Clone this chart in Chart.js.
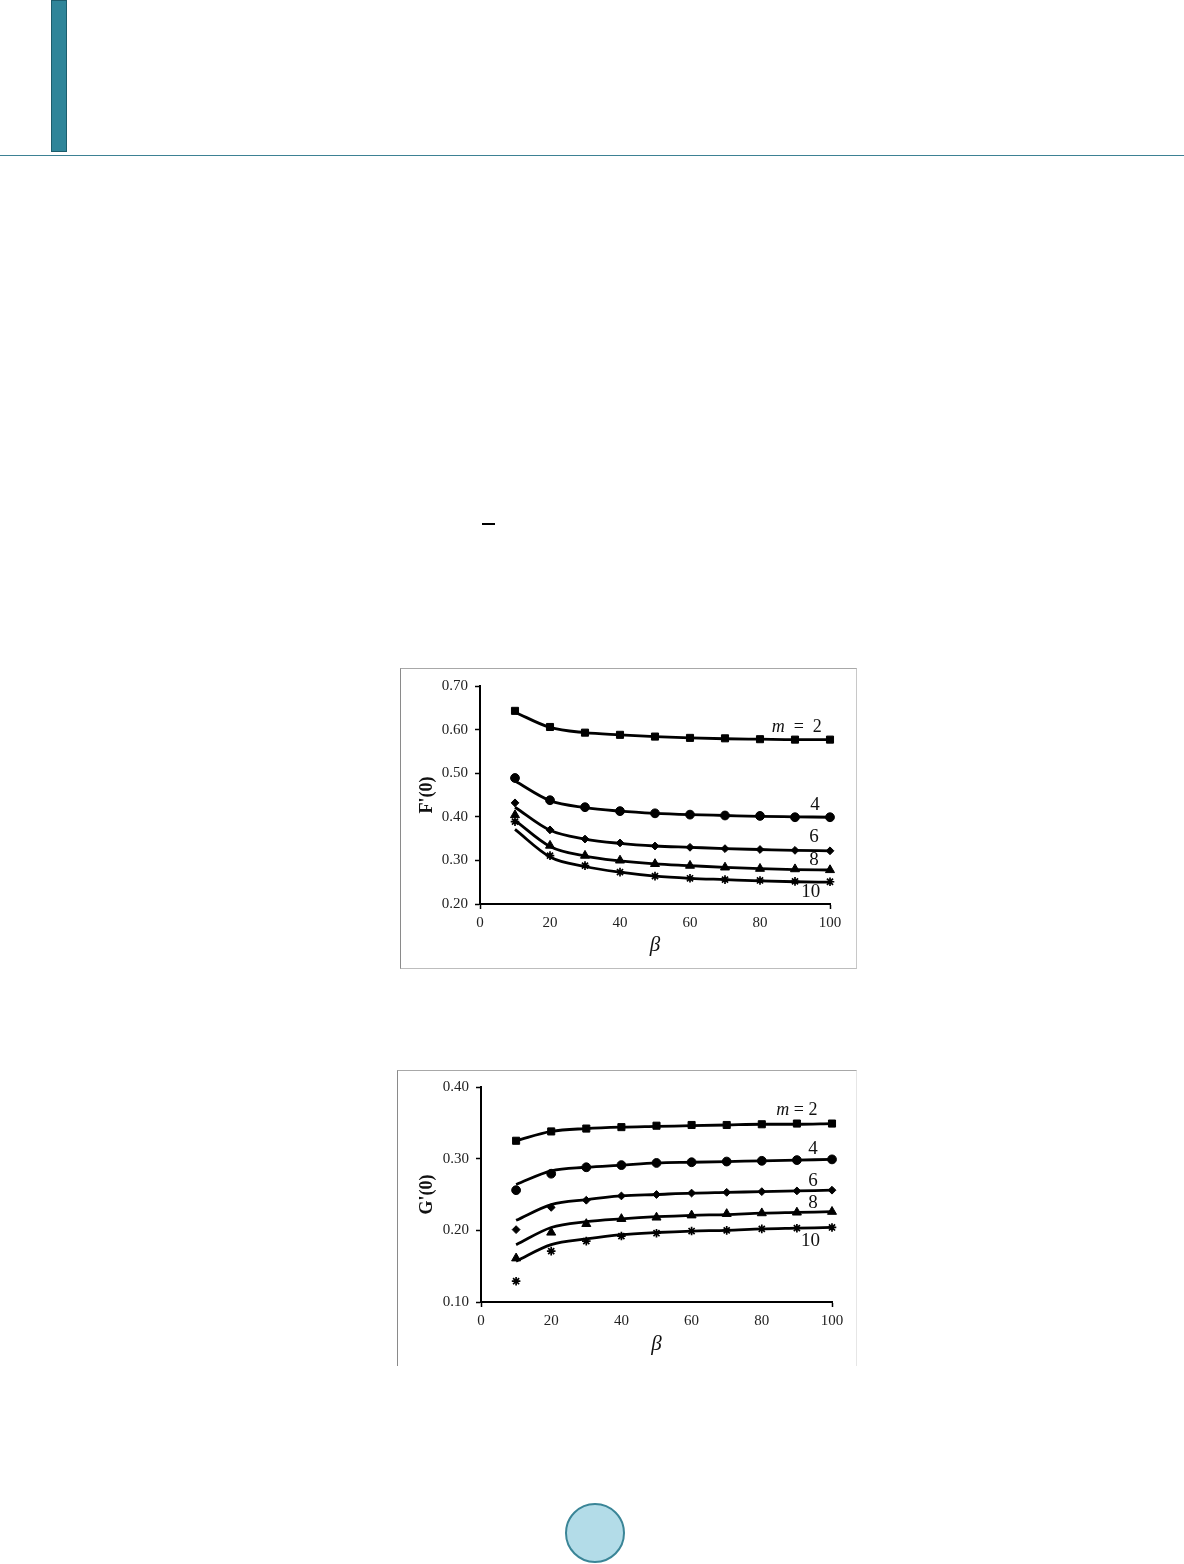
<!DOCTYPE html>
<html>
<head>
<meta charset="utf-8">
<script src="https://cdn.jsdelivr.net/npm/chart.js@4/dist/chart.umd.min.js"></script>
<style>
  body { margin: 0; width: 1184px; height: 1564px; background: #fff; position: relative; overflow: hidden; }
  .abs { position: absolute; }
  #bar { left: 51px; top: 0; width: 16px; height: 152px; background: #2f8599; border: 1px solid #1d5d6c; box-sizing: border-box; }
  #rule { left: 0; top: 155px; width: 1184px; height: 1px; background: #3d8194; }
  #dash { left: 482px; top: 523px; width: 13px; height: 2px; background: #000; }
  #page { left: 565px; top: 1503px; width: 60px; height: 60px; border-radius: 50%; background: #b3dce8; border: 2px solid #3a8597; box-sizing: border-box; }
  #boxF { left: 400px; top: 668px; width: 457px; height: 301px; box-sizing: border-box;
          border-left: 1px solid #8a8a8a; border-top: 1px solid #a8a8a8; border-right: 1px solid #c8c8c8; border-bottom: 1px solid #bdbdbd; }
  #boxG { left: 397px; top: 1070px; width: 460px; height: 296px; box-sizing: border-box;
          border-left: 1px solid #8a8a8a; border-top: 1px solid #a8a8a8; border-right: 1px solid #e6e6e6; }
  canvas { display: block; }
</style>
</head>
<body>
<div id="bar" class="abs"></div>
<div id="rule" class="abs"></div>
<div id="dash" class="abs"></div>
<div id="boxF" class="abs"><canvas id="chartF" width="455" height="299"></canvas></div>
<div id="boxG" class="abs"><canvas id="chartG" width="458" height="295"></canvas></div>
<div id="page" class="abs"></div>

<script>
// beta values shared by both figures
const betas = [10, 20, 30, 40, 50, 60, 70, 80, 90, 100];
const curveNames = ['m = 2', '4', '6', '8', '10'];

// F'(0): marker values
const fM2 = [0.643, 0.606, 0.593, 0.588, 0.584, 0.581, 0.580, 0.578, 0.577, 0.577];
const fM4 = [0.489, 0.438, 0.422, 0.413, 0.408, 0.405, 0.403, 0.402, 0.399, 0.399];
const fM6 = [0.432, 0.370, 0.349, 0.340, 0.333, 0.330, 0.327, 0.325, 0.323, 0.322];
const fM8 = [0.404, 0.334, 0.311, 0.300, 0.292, 0.288, 0.284, 0.281, 0.280, 0.278];
const fM10 = [0.389, 0.311, 0.288, 0.273, 0.264, 0.259, 0.256, 0.254, 0.252, 0.251];
// F'(0): solid curves
const fL2 = [0.640, 0.605, 0.593, 0.588, 0.584, 0.581, 0.579, 0.578, 0.577, 0.577];
const fL4 = [0.482, 0.437, 0.421, 0.413, 0.408, 0.405, 0.403, 0.401, 0.400, 0.399];
const fL6 = [0.422, 0.369, 0.349, 0.339, 0.333, 0.330, 0.327, 0.325, 0.323, 0.322];
const fL8 = [0.392, 0.332, 0.310, 0.299, 0.292, 0.288, 0.284, 0.281, 0.279, 0.278];
const fL10 = [0.371, 0.308, 0.286, 0.273, 0.264, 0.259, 0.256, 0.253, 0.251, 0.250];
const fTicksY = [0.20, 0.30, 0.40, 0.50, 0.60, 0.70];
// where the curve names sit (beta, F'(0))
const fNameX = [90.5, 95.7, 95.4, 95.4, 94.5];
const fNameY = [0.606, 0.428, 0.353, 0.301, 0.228];

// G'(0): marker values
const gM2 = [0.325, 0.338, 0.342, 0.344, 0.346, 0.347, 0.347, 0.348, 0.349, 0.349];
const gM4 = [0.256, 0.279, 0.288, 0.291, 0.294, 0.295, 0.296, 0.297, 0.298, 0.299];
const gM6 = [0.201, 0.232, 0.242, 0.248, 0.250, 0.252, 0.253, 0.254, 0.255, 0.256];
const gM8 = [0.161, 0.197, 0.209, 0.216, 0.218, 0.221, 0.223, 0.224, 0.225, 0.226];
const gM10 = [0.129, 0.171, 0.185, 0.192, 0.196, 0.199, 0.200, 0.202, 0.203, 0.204];
// G'(0): solid curves
const gL2 = [0.325, 0.338, 0.342, 0.344, 0.345, 0.346, 0.347, 0.348, 0.348, 0.349];
const gL4 = [0.264, 0.283, 0.288, 0.291, 0.294, 0.295, 0.296, 0.297, 0.298, 0.299];
const gL6 = [0.214, 0.236, 0.243, 0.248, 0.250, 0.252, 0.253, 0.254, 0.255, 0.256];
const gL8 = [0.180, 0.204, 0.212, 0.216, 0.219, 0.221, 0.222, 0.224, 0.225, 0.226];
const gL10 = [0.157, 0.180, 0.188, 0.194, 0.197, 0.199, 0.200, 0.202, 0.203, 0.204];
const gTicksY = [0.10, 0.20, 0.30, 0.40];
const gNameX = [90.0, 94.6, 94.6, 94.6, 93.9];
const gNameY = [0.3676, 0.3134, 0.2694, 0.238, 0.1847];

const xTicks = [0, 20, 40, 60, 80, 100];

const serif = '"Liberation Serif", "DejaVu Serif", serif';
const markerStyles = ['rect', 'circle', 'rectRot', 'triangle', 'star'];
const markerSizes = [5, 4.4, 3.9, 5.2, 4.3];

function pts(ys) {
  return betas.map((b, i) => ({ x: b, y: ys[i] }));
}

// curve names drawn in data coordinates
const namePlugin = {
  id: 'curveNames',
  afterDatasetsDraw(chart, args, opts) {
    const { ctx, scales } = chart;
    ctx.save();
    ctx.fillStyle = '#111';
    ctx.textBaseline = 'middle';
    opts.xs.forEach((bx, i) => {
      const px = scales.x.getPixelForValue(bx);
      const py = scales.y.getPixelForValue(opts.ys[i]);
      const name = curveNames[i];
      if (name.startsWith('m')) {
        ctx.font = 'italic 18px ' + serif;
        const w1 = ctx.measureText('m').width;
        ctx.font = '18px ' + serif;
        const restText = opts.wide ? '  =  2' : ' = 2';
        const w2 = ctx.measureText(restText).width;
        const x0 = px - (w1 + w2) / 2;
        ctx.textAlign = 'left';
        ctx.font = 'italic 18px ' + serif;
        ctx.fillText('m', x0, py);
        ctx.font = '18px ' + serif;
        ctx.fillText(restText, x0 + w1, py);
      } else {
        ctx.font = '19px ' + serif;
        ctx.textAlign = 'center';
        ctx.fillText(name, px, py);
      }
    });
    ctx.restore();
  }
};

function makeChart(id, cfg) {
  const datasets = [];
  cfg.lines.forEach(ys => {
    datasets.push({
      data: pts(ys),
      borderColor: '#000',
      borderWidth: 2.8,
      pointRadius: 0,
      cubicInterpolationMode: 'monotone',
      fill: false,
      clip: false
    });
  });
  cfg.marks.forEach((ys, i) => {
    datasets.push({
      data: pts(ys),
      showLine: false,
      clip: false,
      pointStyle: markerStyles[i],
      pointRadius: markerSizes[i],
      pointBackgroundColor: '#000',
      pointBorderColor: '#000',
      pointBorderWidth: markerStyles[i] === 'star' ? 1.7 : 1
    });
  });

  return new Chart(document.getElementById(id), {
    type: 'line',
    data: { datasets },
    plugins: [namePlugin],
    options: {
      responsive: false,
      devicePixelRatio: 1,
      animation: false,
      layout: { padding: { left: 0, top: cfg.top, right: cfg.right, bottom: 0 } },
      plugins: {
        legend: { display: false },
        tooltip: { enabled: false },
        curveNames: { xs: cfg.nameX, ys: cfg.nameY, wide: cfg.wide }
      },
      scales: {
        x: {
          type: 'linear',
          min: 0,
          max: 100,
          afterBuildTicks: s => { s.ticks = xTicks.map(v => ({ value: v })); },
          afterFit: s => { s.height = cfg.xHeight; },
          border: { display: true, color: '#000', width: 2 },
          grid: {
            drawOnChartArea: false,
            drawTicks: true,
            tickLength: 5,
            tickWidth: 1.5,
            tickColor: c => (c.tick && (c.tick.value === 0 || c.tick.value === 100)) ? '#000' : 'rgba(0,0,0,0)'
          },
          ticks: { color: '#222', padding: 5, font: { family: serif, size: 15 }, maxRotation: 0 },
          title: {
            display: true,
            text: 'β',
            color: '#111',
            font: { family: serif, size: 21, style: 'italic' },
            padding: { top: 0, bottom: cfg.xTitlePad }
          }
        },
        y: {
          type: 'linear',
          min: cfg.yTicks[0],
          max: cfg.yTicks[cfg.yTicks.length - 1],
          afterBuildTicks: s => { s.ticks = cfg.yTicks.map(v => ({ value: v })); },
          afterFit: s => { s.width = cfg.yWidth; },
          border: { display: true, color: '#000', width: 2 },
          grid: { drawOnChartArea: false, drawTicks: true, tickLength: 5, tickWidth: 1.5, tickColor: '#000' },
          ticks: { color: '#222', padding: 7, font: { family: serif, size: 15 }, callback: v => v.toFixed(2) },
          title: {
            display: true,
            text: cfg.yTitle,
            color: '#111',
            font: { family: serif, size: 18, weight: 'bold' },
            padding: { top: cfg.yTitlePad, bottom: 0 }
          }
        }
      }
    }
  });
}

makeChart('chartF', {
  lines: [fL2, fL4, fL6, fL8, fL10],
  marks: [fM2, fM4, fM6, fM8, fM10],
  yTicks: fTicksY,
  yTitle: "F'(0)",
  nameX: fNameX,
  nameY: fNameY,
  wide: true,
  top: 17,
  right: 26,
  yWidth: 79,
  xHeight: 64,
  xTitlePad: 10,
  yTitlePad: 16
});

makeChart('chartG', {
  lines: [gL2, gL4, gL6, gL8, gL10],
  marks: [gM2, gM4, gM6, gM8, gM10],
  yTicks: gTicksY,
  yTitle: "G'(0)",
  nameX: gNameX,
  nameY: gNameY,
  wide: false,
  top: 15,
  right: 24,
  yWidth: 83,
  xHeight: 64,
  xTitlePad: 9,
  yTitlePad: 19
});
</script>
</body>
</html>
